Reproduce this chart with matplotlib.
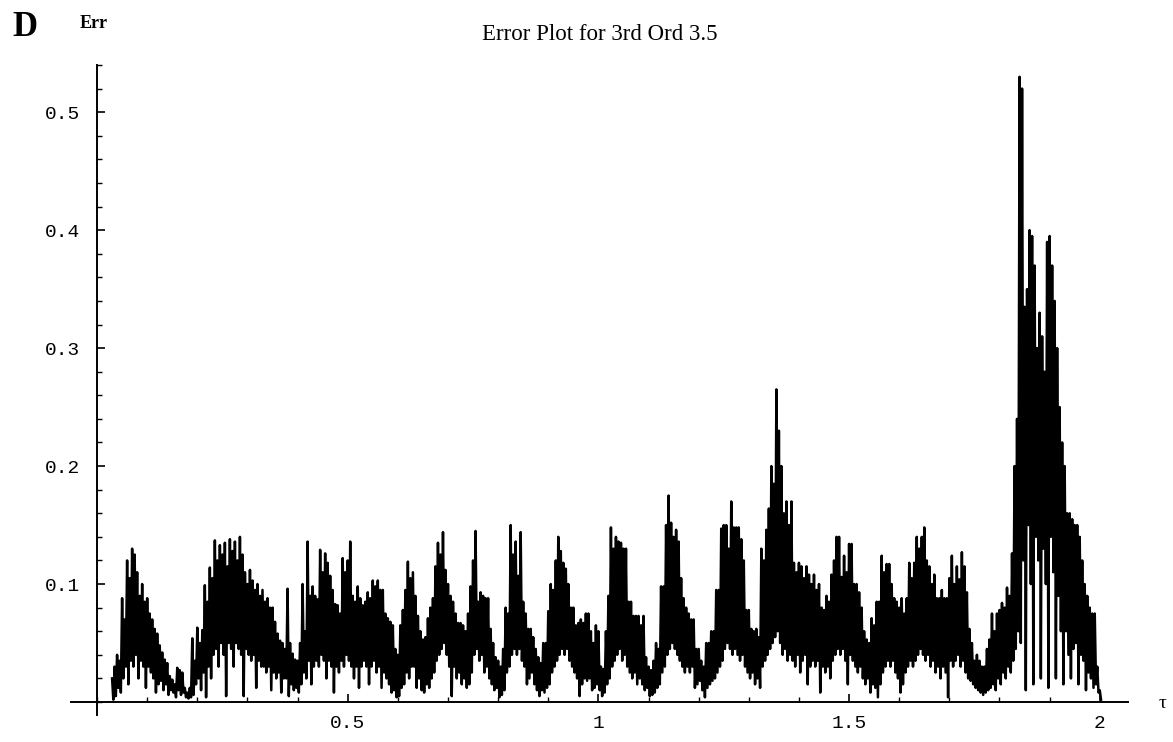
import numpy as np
import matplotlib
matplotlib.use('Agg')
import matplotlib.pyplot as plt
from matplotlib.ticker import MultipleLocator

# upper tips of the fast oscillation, one every 0.005 in tau (0.030 .. 2.000)
err_hi = [
    0.020, 0.030, 0.040, 0.035, 0.088, 0.070, 0.120, 0.105, 0.130, 0.125,
    0.110, 0.090, 0.100, 0.085, 0.088, 0.075, 0.070, 0.062, 0.058, 0.048,
    0.042, 0.036, 0.033, 0.022, 0.019, 0.015, 0.029, 0.027, 0.025, 0.012,
    0.008, 0.012, 0.054, 0.035, 0.063, 0.050, 0.061, 0.099, 0.085, 0.114,
    0.105, 0.137, 0.120, 0.133, 0.125, 0.135, 0.115, 0.138, 0.128, 0.136,
    0.120, 0.140, 0.125, 0.110, 0.100, 0.112, 0.103, 0.095, 0.100, 0.090,
    0.095, 0.085, 0.088, 0.080, 0.080, 0.068, 0.058, 0.052, 0.050, 0.045,
    0.096, 0.050, 0.041, 0.036, 0.035, 0.050, 0.100, 0.060, 0.136, 0.090,
    0.098, 0.090, 0.087, 0.129, 0.110, 0.126, 0.118, 0.107, 0.095, 0.083,
    0.082, 0.075, 0.122, 0.110, 0.120, 0.136, 0.090, 0.085, 0.098, 0.088,
    0.082, 0.085, 0.093, 0.088, 0.103, 0.098, 0.103, 0.095, 0.095, 0.075,
    0.071, 0.068, 0.065, 0.045, 0.040, 0.065, 0.078, 0.095, 0.119, 0.105,
    0.110, 0.090, 0.073, 0.060, 0.053, 0.055, 0.071, 0.080, 0.088, 0.115,
    0.135, 0.125, 0.144, 0.112, 0.100, 0.090, 0.085, 0.075, 0.067, 0.067,
    0.065, 0.060, 0.075, 0.098, 0.120, 0.145, 0.085, 0.093, 0.090, 0.088,
    0.088, 0.062, 0.050, 0.038, 0.035, 0.030, 0.045, 0.080, 0.075, 0.150,
    0.125, 0.136, 0.107, 0.144, 0.085, 0.075, 0.062, 0.062, 0.055, 0.045,
    0.038, 0.033, 0.050, 0.050, 0.077, 0.100, 0.095, 0.120, 0.140, 0.128,
    0.118, 0.113, 0.100, 0.080, 0.080, 0.065, 0.067, 0.070, 0.067, 0.075,
    0.075, 0.060, 0.050, 0.065, 0.060, 0.030, 0.028, 0.060, 0.090, 0.148,
    0.130, 0.140, 0.136, 0.135, 0.130, 0.130, 0.085, 0.085, 0.073, 0.073,
    0.073, 0.065, 0.073, 0.038, 0.030, 0.027, 0.035, 0.050, 0.045, 0.098,
    0.098, 0.150, 0.175, 0.152, 0.140, 0.146, 0.136, 0.105, 0.088, 0.080,
    0.075, 0.070, 0.070, 0.045, 0.045, 0.035, 0.030, 0.050, 0.050, 0.060,
    0.060, 0.095, 0.095, 0.147, 0.150, 0.150, 0.130, 0.170, 0.148, 0.148,
    0.148, 0.138, 0.120, 0.078, 0.078, 0.062, 0.060, 0.062, 0.055, 0.130,
    0.120, 0.146, 0.164, 0.200, 0.185, 0.265, 0.230, 0.200, 0.160, 0.170,
    0.150, 0.170, 0.118, 0.110, 0.118, 0.115, 0.105, 0.115, 0.108, 0.100,
    0.108, 0.095, 0.100, 0.080, 0.078, 0.090, 0.085, 0.108, 0.120, 0.140,
    0.140, 0.106, 0.124, 0.110, 0.134, 0.134, 0.100, 0.100, 0.093, 0.080,
    0.060, 0.053, 0.050, 0.071, 0.065, 0.085, 0.085, 0.124, 0.110, 0.117,
    0.117, 0.100, 0.088, 0.085, 0.080, 0.088, 0.075, 0.088, 0.118, 0.105,
    0.118, 0.140, 0.130, 0.140, 0.148, 0.120, 0.115, 0.100, 0.108, 0.088,
    0.088, 0.095, 0.088, 0.088, 0.105, 0.124, 0.100, 0.115, 0.104, 0.127,
    0.115, 0.093, 0.062, 0.050, 0.035, 0.040, 0.035, 0.030, 0.030, 0.045,
    0.053, 0.075, 0.060, 0.075, 0.078, 0.084, 0.080, 0.097, 0.090, 0.126,
    0.200, 0.240, 0.530, 0.520, 0.335, 0.350, 0.400, 0.395, 0.370, 0.300,
    0.330, 0.310, 0.280, 0.390, 0.395, 0.370, 0.340, 0.300, 0.250, 0.220,
    0.200, 0.160, 0.160, 0.155, 0.150, 0.150, 0.140, 0.120, 0.100, 0.090,
    0.080, 0.075, 0.075, 0.030, 0.010,
]

# lower dips, half a step after each tip
err_lo = [
    0.002, 0.005, 0.012, 0.008, 0.020, 0.030, 0.015, 0.035, 0.030, 0.040,
    0.020, 0.035, 0.030, 0.012, 0.030, 0.025, 0.020, 0.008, 0.015, 0.018,
    0.010, 0.015, 0.006, 0.010, 0.008, 0.004, 0.010, 0.006, 0.008, 0.004,
    0.003, 0.004, 0.006, 0.015, 0.020, 0.010, 0.025, 0.004, 0.030, 0.020,
    0.040, 0.045, 0.030, 0.050, 0.040, 0.005, 0.050, 0.045, 0.030, 0.050,
    0.045, 0.040, 0.005, 0.045, 0.040, 0.035, 0.040, 0.012, 0.035, 0.030,
    0.030, 0.025, 0.030, 0.010, 0.025, 0.020, 0.025, 0.008, 0.020, 0.020,
    0.005, 0.015, 0.010, 0.012, 0.008, 0.015, 0.025, 0.020, 0.035, 0.015,
    0.030, 0.035, 0.030, 0.040, 0.035, 0.020, 0.035, 0.030, 0.008, 0.030,
    0.025, 0.035, 0.030, 0.040, 0.035, 0.030, 0.020, 0.030, 0.012, 0.030,
    0.035, 0.030, 0.015, 0.030, 0.035, 0.025, 0.030, 0.012, 0.025, 0.020,
    0.015, 0.008, 0.010, 0.004, 0.005, 0.012, 0.015, 0.025, 0.020, 0.030,
    0.030, 0.012, 0.020, 0.010, 0.008, 0.015, 0.012, 0.020, 0.025, 0.035,
    0.040, 0.045, 0.050, 0.040, 0.030, 0.005, 0.030, 0.020, 0.025, 0.015,
    0.020, 0.012, 0.015, 0.025, 0.040, 0.045, 0.035, 0.040, 0.025, 0.030,
    0.020, 0.015, 0.010, 0.012, 0.004, 0.006, 0.010, 0.025, 0.030, 0.040,
    0.045, 0.040, 0.045, 0.035, 0.030, 0.015, 0.020, 0.025, 0.015, 0.010,
    0.005, 0.010, 0.008, 0.012, 0.015, 0.025, 0.030, 0.035, 0.040, 0.045,
    0.040, 0.045, 0.035, 0.030, 0.025, 0.020, 0.005, 0.015, 0.020, 0.018,
    0.020, 0.010, 0.012, 0.015, 0.010, 0.005, 0.008, 0.015, 0.020, 0.030,
    0.035, 0.040, 0.045, 0.035, 0.040, 0.030, 0.025, 0.020, 0.025, 0.015,
    0.020, 0.015, 0.010, 0.012, 0.005, 0.006, 0.008, 0.012, 0.015, 0.025,
    0.030, 0.040, 0.045, 0.050, 0.045, 0.040, 0.035, 0.030, 0.025, 0.030,
    0.025, 0.030, 0.012, 0.015, 0.018, 0.010, 0.004, 0.012, 0.015, 0.018,
    0.020, 0.025, 0.030, 0.035, 0.045, 0.050, 0.045, 0.040, 0.045, 0.040,
    0.035, 0.040, 0.030, 0.025, 0.020, 0.025, 0.015, 0.020, 0.012, 0.030,
    0.035, 0.040, 0.045, 0.050, 0.055, 0.060, 0.050, 0.040, 0.045, 0.035,
    0.040, 0.035, 0.030, 0.040, 0.025, 0.035, 0.040, 0.015, 0.030, 0.035,
    0.030, 0.035, 0.008, 0.030, 0.025, 0.030, 0.020, 0.035, 0.040, 0.045,
    0.040, 0.045, 0.035, 0.015, 0.040, 0.035, 0.030, 0.025, 0.030, 0.020,
    0.015, 0.020, 0.008, 0.015, 0.012, 0.004, 0.015, 0.025, 0.030, 0.035,
    0.030, 0.035, 0.025, 0.020, 0.008, 0.015, 0.025, 0.030, 0.035, 0.030,
    0.035, 0.040, 0.045, 0.040, 0.035, 0.040, 0.030, 0.035, 0.025, 0.030,
    0.020, 0.030, 0.025, 0.004, 0.035, 0.030, 0.035, 0.040, 0.030, 0.035,
    0.025, 0.020, 0.018, 0.015, 0.012, 0.010, 0.008, 0.006, 0.008, 0.010,
    0.012, 0.015, 0.010, 0.020, 0.015, 0.025, 0.020, 0.030, 0.025, 0.035,
    0.045, 0.060, 0.050, 0.120, 0.010, 0.150, 0.100, 0.015, 0.140, 0.120,
    0.020, 0.130, 0.100, 0.012, 0.140, 0.110, 0.020, 0.090, 0.060, 0.015,
    0.060, 0.040, 0.020, 0.045, 0.050, 0.015, 0.040, 0.035, 0.010, 0.025,
    0.020, 0.012, 0.015, 0.008, 0.002,
]

tau_hi = np.round(0.03 + 0.005 * np.arange(len(err_hi)), 4)
tau_lo = tau_hi + 0.0025

x_ticks = [0.5, 1, 1.5, 2]
x_labels = ['0.5', '1', '1.5', '2']
y_ticks = [0.1, 0.2, 0.3, 0.4, 0.5]
y_labels = ['0.1', '0.2', '0.3', '0.4', '0.5']

tau = np.column_stack([tau_hi, tau_lo]).ravel()
err = np.column_stack([err_hi, err_lo]).ravel()

serif = 'Liberation Serif'
mono = 'Liberation Mono'

fig = plt.figure(figsize=(11.73, 7.42), dpi=100)
ax = fig.add_axes([0.0605, 0.0364, 0.901, 0.876])

ax.plot(tau, err, color='black', lw=1.8, solid_joinstyle='round')

ax.set_xlim(-0.052, 2.056)
ax.set_ylim(-0.011, 0.54)
ax.spines['left'].set_position(('data', 0))
ax.spines['bottom'].set_position(('data', 0))
ax.spines['top'].set_visible(False)
ax.spines['right'].set_visible(False)
for s in ['left', 'bottom']:
    ax.spines[s].set_linewidth(1.4)
    ax.spines[s].set_zorder(3)

ax.set_xticks(x_ticks)
ax.set_xticklabels(x_labels)
ax.set_yticks(y_ticks)
ax.set_yticklabels(y_labels)
ax.xaxis.set_minor_locator(MultipleLocator(0.1))
ax.yaxis.set_minor_locator(MultipleLocator(0.02))
ax.tick_params(which='major', direction='in', length=6, width=1.2)
ax.tick_params(which='minor', direction='in', length=3.5, width=1.0)
ax.tick_params(axis='y', pad=12)
ax.tick_params(axis='x', pad=9)
for lab in ax.get_xticklabels() + ax.get_yticklabels():
    lab.set_fontfamily(mono)
    lab.set_fontsize(14)

fig.text(25 / 1173, 1 - 27 / 742, 'D', fontfamily=serif, fontweight='bold',
         fontsize=25, ha='center', va='center')
fig.text(94 / 1173, 1 - 23 / 742, 'Err', fontfamily=serif, fontsize=13,
         fontweight='bold', ha='center', va='center')
fig.text(600 / 1173, 1 - 35 / 742, 'Error Plot for 3rd Ord 3.5',
         fontfamily=serif, fontsize=16.5, ha='center', va='center')
fig.text(1163 / 1173, 1 - 703 / 742, 'τ', fontfamily=serif, fontsize=14,
         ha='center', va='center')

fig.savefig('out.png', dpi=100)
